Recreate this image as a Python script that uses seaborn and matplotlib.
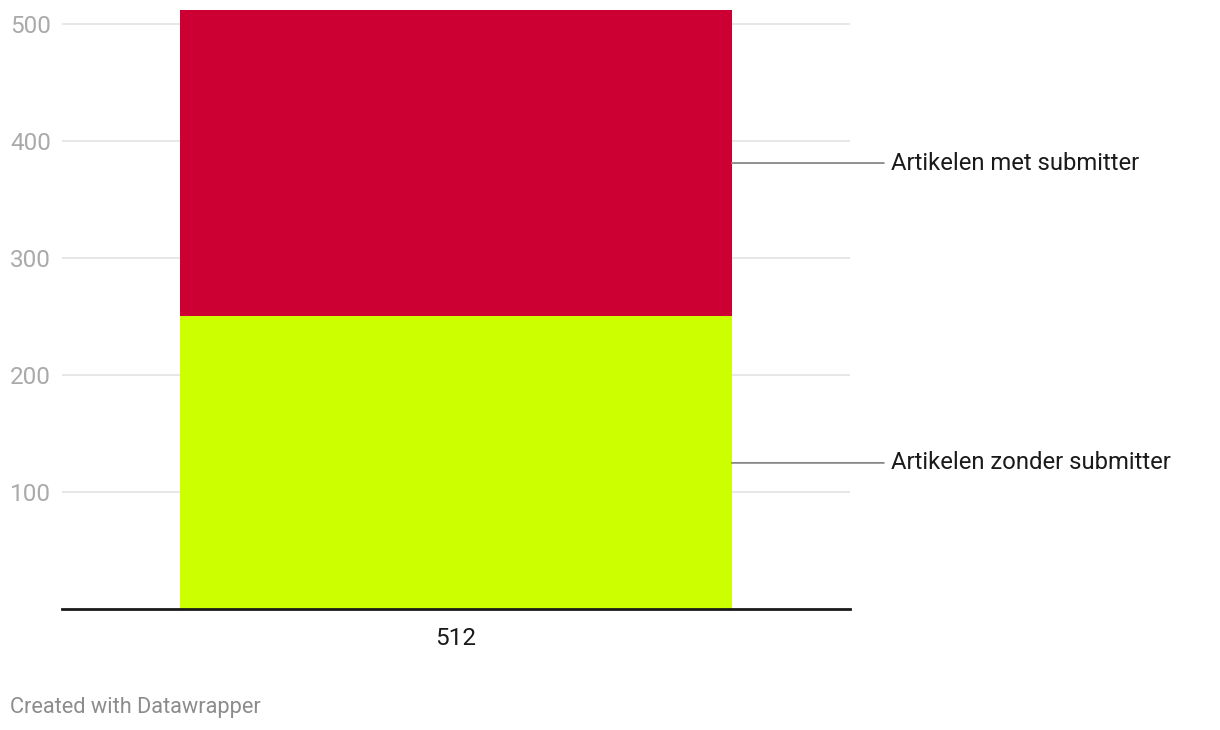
import matplotlib
matplotlib.use("Agg")
import matplotlib.pyplot as plt
import seaborn as sns
import pandas as pd

# data
category = ["512"]
zonder = [250]   # Artikelen zonder submitter (bottom)
met = [262]      # Artikelen met submitter (top)
series_labels = ["Artikelen zonder submitter", "Artikelen met submitter"]
yticks = [100, 200, 300, 400, 500]

LIME = "#ccff00"
RED = "#cc0033"

sns.set_theme(style="white")
plt.rcParams["font.family"] = ["Roboto", "DejaVu Sans"]

df = pd.DataFrame({
    "cat": category,
    "zonder": zonder,
    "met": met,
})
df["total"] = df["zonder"] + df["met"]

fig = plt.figure(figsize=(12.2, 7.3), dpi=100)
ax = fig.add_axes([62 / 1220, 1 - 609.3 / 730, 788 / 1220, (609.3 - 9.6) / 730])

# stacked bar: total first (red), bottom segment on top of it (lime)
sns.barplot(data=df, x="cat", y="total", color=RED, width=0.7, saturation=1,
            linewidth=0, ax=ax)
sns.barplot(data=df, x="cat", y="zonder", color=LIME, width=0.7, saturation=1,
            linewidth=0, ax=ax)

ax.set_ylim(0, 512)
ax.set_xlim(-0.5, 0.5)
ax.set_yticks(yticks)
ax.set_yticklabels([str(t) for t in yticks])
ax.yaxis.grid(True, color="#e3e3e3", linewidth=1.2)
ax.set_axisbelow(True)
for s in ["top", "right", "left"]:
    ax.spines[s].set_visible(False)
ax.spines["bottom"].set_color("#1a1a1a")
ax.spines["bottom"].set_linewidth(2)
ax.tick_params(axis="y", length=0, pad=8, labelsize=17.5, labelcolor="#aaaaaa")
ax.tick_params(axis="x", length=0, pad=13, labelsize=17.5, labelcolor="#1a1a1a")
ax.set_xlabel("")
ax.set_ylabel("")

# direct labels with leader lines
bar = ax.patches[0]
x_right = bar.get_x() + bar.get_width()
mids = [zonder[0] / 2, zonder[0] + met[0] / 2]
for lab, ym in zip(series_labels, mids):
    ax.annotate("", xy=(x_right, ym), xytext=(x_right + 0.193, ym),
                arrowprops=dict(arrowstyle="-", color="#888888", lw=1.3,
                                shrinkA=0, shrinkB=0),
                annotation_clip=False)
    ax.text(x_right + 0.202, ym, lab, fontsize=17.2, color="#1a1a1a",
            va="center", ha="left", clip_on=False)

fig.text(10 / 1220, 1 - 708 / 730, "Created with Datawrapper", fontsize=15.7,
         color="#8c8c8c", va="center", ha="left")

fig.savefig("out.png", dpi=100)
